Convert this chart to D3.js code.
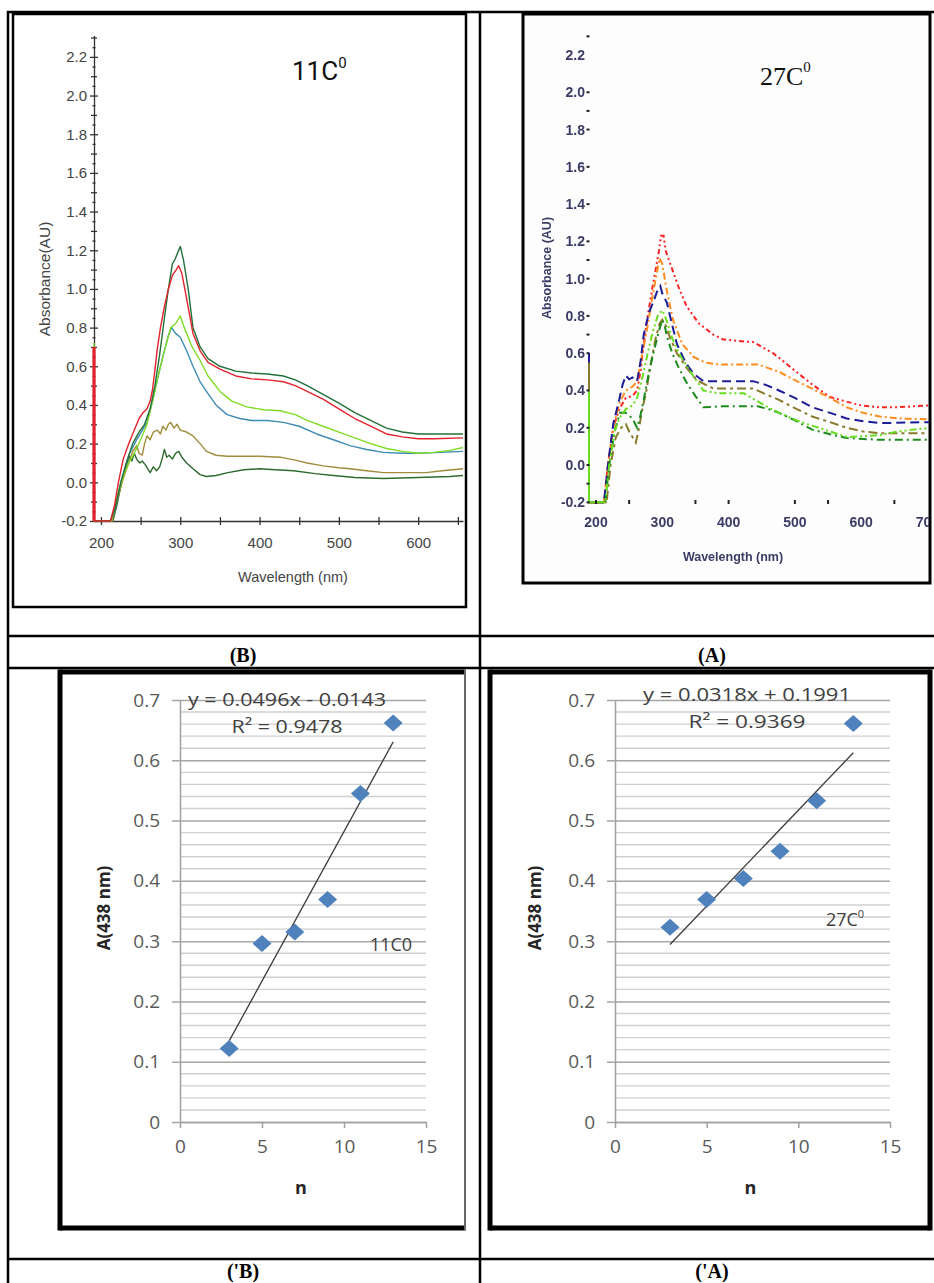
<!DOCTYPE html>
<html>
<head>
<meta charset="utf-8">
<script src="https://cdn.jsdelivr.net/npm/d3@7"></script>
<style>
  body { margin: 0; background: #fff; }
  svg { display: block; }
</style>
</head>
<body>
<script>
// ---------- data ----------
// panel (B): spectra at 11 C, [wavelength nm, absorbance]
const spec11GreenTop = [[191.2,0.62],[191.2,-0.2],[212,-0.2],[218,-0.13],[225,0.0],[232,0.1],[240,0.2],[248,0.26],[255,0.3],[262,0.38],[268,0.5],[274,0.66],[280,0.85],[285,1.0],[290,1.13],[293,1.15],[296,1.18],[300,1.22],[304,1.15],[310,1.0],[316,0.8],[325,0.7],[335,0.64],[350,0.6],[370,0.575],[390,0.565],[410,0.56],[430,0.55],[445,0.53],[460,0.5],[480,0.455],[500,0.41],[520,0.36],[540,0.32],[560,0.28],[580,0.26],[600,0.25],[656.5,0.25]];
const spec11Red = [[191.2,0.70],[191.2,-0.2],[212,-0.2],[217,-0.12],[222,0.0],[228,0.12],[235,0.2],[242,0.27],[248,0.33],[253,0.36],[258,0.38],[262,0.42],[265,0.48],[268,0.58],[271,0.69],[275,0.8],[280,0.91],[285,1.0],[290,1.07],[295,1.1],[298,1.12],[302,1.08],[308,0.95],[316,0.77],[325,0.68],[335,0.62],[350,0.585],[370,0.55],[390,0.535],[410,0.53],[430,0.52],[445,0.5],[460,0.47],[480,0.43],[500,0.38],[520,0.33],[540,0.29],[560,0.25],[580,0.235],[600,0.225],[620,0.225],[656.5,0.23]];
const spec11LightGreen = [[191.2,0.72],[191.2,-0.2],[213,-0.2],[220,-0.08],[228,0.03],[235,0.1],[242,0.15],[250,0.22],[258,0.3],[265,0.42],[272,0.55],[280,0.68],[288,0.8],[294,0.82],[300,0.86],[305,0.8],[315,0.7],[325,0.63],[335,0.55],[350,0.47],[365,0.42],[384,0.39],[405,0.375],[426,0.37],[445,0.35],[460,0.32],[480,0.29],[500,0.26],[520,0.23],[540,0.2],[560,0.175],[580,0.16],[600,0.15],[620,0.155],[640,0.165],[656.5,0.18]];
const spec11Blue = [[191.2,0.5],[191.2,-0.2],[212,-0.2],[217,-0.15],[225,0.0],[235,0.14],[245,0.22],[258,0.31],[265,0.42],[271,0.53],[278,0.65],[285,0.76],[289,0.8],[294,0.77],[300,0.75],[308,0.68],[316,0.6],[325,0.52],[333,0.47],[345,0.4],[359,0.35],[375,0.33],[390,0.32],[410,0.32],[430,0.31],[450,0.29],[472,0.25],[493,0.22],[514,0.19],[535,0.17],[556,0.155],[580,0.15],[600,0.15],[656.5,0.16]];
const spec11Olive = [[191.2,0.4],[191.2,-0.2],[214,-0.2],[220,-0.1],[228,0.02],[235,0.1],[240,0.16],[245,0.19],[248,0.15],[252,0.14],[255,0.2],[258,0.24],[262,0.22],[266,0.26],[271,0.27],[275,0.25],[278,0.29],[282,0.27],[285,0.3],[288,0.31],[292,0.28],[296,0.3],[300,0.27],[308,0.26],[316,0.24],[325,0.2],[333,0.16],[345,0.14],[359,0.135],[380,0.135],[400,0.135],[426,0.13],[445,0.115],[460,0.1],[480,0.085],[500,0.075],[514,0.07],[535,0.06],[556,0.05],[580,0.05],[610,0.05],[630,0.06],[656.5,0.07]];
const spec11GreenLow = [[191.2,0.3],[191.2,-0.2],[215,-0.2],[220,-0.12],[225,-0.02],[229,0.05],[233,0.1],[236,0.135],[239,0.11],[242,0.15],[245,0.12],[249,0.1],[252,0.11],[256,0.09],[259,0.07],[262,0.05],[266,0.08],[270,0.06],[274,0.08],[277,0.12],[280,0.17],[283,0.13],[286,0.14],[290,0.12],[294,0.15],[298,0.16],[302,0.13],[308,0.1],[316,0.07],[325,0.04],[333,0.03],[345,0.035],[360,0.05],[380,0.065],[400,0.07],[420,0.065],[443,0.06],[470,0.045],[493,0.035],[520,0.025],[556,0.02],[600,0.025],[640,0.03],[656.5,0.035]];

// panel (A): spectra at 27 C
const spec27Red = [[189.4,0.45],[189.4,-0.2],[212,-0.2],[218,0.0],[226,0.2],[235,0.3],[245,0.36],[255,0.37],[262,0.4],[267,0.5],[272,0.65],[278,0.8],[285,0.95],[290,1.05],[295,1.15],[298,1.23],[302,1.23],[305,1.15],[315,1.05],[325,0.95],[337,0.85],[355,0.76],[377,0.70],[391,0.675],[415,0.665],[437,0.66],[452,0.63],[467,0.6],[485,0.55],[502,0.5],[527,0.43],[553,0.365],[578,0.34],[600,0.32],[628,0.31],[655,0.31],[704,0.32]];
const spec27Orange = [[212,-0.2],[218,0.0],[226,0.2],[235,0.33],[245,0.4],[255,0.42],[262,0.45],[270,0.6],[278,0.75],[285,0.9],[290,1.0],[296,1.11],[300,1.08],[306,0.95],[316,0.78],[330,0.65],[347,0.58],[365,0.55],[384,0.54],[420,0.54],[444,0.54],[460,0.52],[476,0.5],[500,0.455],[526,0.41],[553,0.36],[578,0.31],[603,0.28],[628,0.26],[655,0.25],[704,0.245]];
const spec27Blue = [[189.4,0.6],[189.4,-0.2],[212,-0.2],[218,0.0],[226,0.22],[235,0.35],[240,0.43],[245,0.48],[250,0.46],[255,0.47],[262,0.45],[267,0.55],[272,0.7],[280,0.82],[287,0.88],[292,0.93],[297,0.96],[300,0.92],[307,0.87],[315,0.75],[322,0.65],[335,0.55],[347,0.49],[362,0.45],[391,0.45],[437,0.45],[456,0.43],[476,0.4],[500,0.36],[526,0.31],[553,0.28],[578,0.25],[603,0.235],[628,0.225],[704,0.23]];
const spec27Olive = [[189.4,0.55],[189.4,-0.2],[216,-0.2],[222,0.0],[230,0.15],[238,0.2],[245,0.22],[250,0.18],[255,0.15],[260,0.12],[265,0.2],[270,0.3],[276,0.4],[283,0.55],[290,0.68],[296,0.76],[300,0.78],[305,0.75],[312,0.68],[322,0.6],[337,0.52],[352,0.455],[377,0.41],[437,0.41],[456,0.38],[476,0.35],[500,0.305],[526,0.26],[553,0.23],[578,0.2],[603,0.18],[628,0.17],[704,0.17]];
const spec27GreenDark = [[214,-0.2],[220,0.0],[228,0.18],[236,0.28],[245,0.28],[255,0.25],[262,0.2],[266,0.25],[272,0.35],[280,0.5],[288,0.62],[295,0.72],[300,0.78],[304,0.74],[307,0.69],[315,0.6],[325,0.52],[337,0.44],[350,0.37],[362,0.31],[391,0.315],[444,0.315],[460,0.3],[476,0.28],[500,0.24],[526,0.19],[553,0.165],[578,0.145],[603,0.14],[628,0.135],[704,0.135]];
const spec27LightGreen = [[189.4,0.4],[189.4,-0.2],[214,-0.2],[220,0.0],[228,0.18],[235,0.25],[245,0.3],[255,0.32],[262,0.36],[270,0.47],[278,0.6],[286,0.72],[293,0.8],[300,0.83],[306,0.78],[315,0.68],[325,0.6],[337,0.53],[350,0.46],[362,0.40],[384,0.385],[423,0.385],[440,0.35],[459,0.31],[480,0.275],[502,0.24],[527,0.21],[553,0.18],[578,0.15],[603,0.155],[628,0.16],[655,0.18],[704,0.2]];

const specYTicks = [-0.2, 0, 0.2, 0.4, 0.6, 0.8, 1.0, 1.2, 1.4, 1.6, 1.8, 2.0, 2.2];
const specXTicks11 = [200, 300, 400, 500, 600];
const specXTicks27 = [200, 300, 400, 500, 600, 700];
const specXMarks27 = [200, 250, 350, 400, 500, 550, 650];
const specYMarks27 = [2.3, 1.9, 1.1, 0.7, -0.1];

// panels ('B) and ('A): absorbance at 438 nm vs n
const nValues = [3, 5, 7, 9, 11, 13];
const abs438At11 = [0.122, 0.296, 0.315, 0.369, 0.545, 0.662];
const abs438At27 = [0.323, 0.369, 0.404, 0.449, 0.533, 0.661];
const fit11 = { slope: 0.0496, intercept: -0.0143, r2: 0.9478 };
const fit27 = { slope: 0.0318, intercept: 0.1991, r2: 0.9369 };
const scatterXTicks = [0, 5, 10, 15];
const scatterYTicks = [0, 0.1, 0.2, 0.3, 0.4, 0.5, 0.6, 0.7];

// ---------- page ----------
const svg = d3.select("body").append("svg")
  .attr("width", 934).attr("height", 1283);
svg.append("rect").attr("width", 934).attr("height", 1283).attr("fill", "#fff");

const defs = svg.append("defs");
defs.append("filter").attr("id", "soft")
  .append("feGaussianBlur").attr("stdDeviation", 0.45);
defs.append("clipPath").attr("id", "clipB")
  .append("rect").attr("x", 92).attr("y", 20).attr("width", 372).attr("height", 503);
defs.append("clipPath").attr("id", "clipA")
  .append("rect").attr("x", 588).attr("y", 20).attr("width", 341).attr("height", 485);
defs.append("clipPath").attr("id", "clipALabels")
  .append("rect").attr("x", 524).attr("y", 14).attr("width", 405).attr("height", 568);

// table rules
const table = svg.append("g").attr("stroke", "#000").attr("stroke-width", 2.5);
[12, 636, 668, 1259].forEach(yy =>
  table.append("line").attr("x1", 7).attr("x2", 934).attr("y1", yy).attr("y2", yy));
[8, 480].forEach(xx =>
  table.append("line").attr("x1", xx).attr("x2", xx).attr("y1", 11).attr("y2", 1283));

// row captions
const caps = [["(B)", 243, 662], ["(A)", 712, 662], ["('B)", 243, 1278], ["('A)", 712, 1278]];
svg.selectAll("text.cap").data(caps).join("text")
  .attr("class", "cap")
  .attr("x", d => d[1]).attr("y", d => d[2])
  .attr("text-anchor", "middle")
  .style("font-family", "'Liberation Serif', 'Times New Roman', serif")
  .style("font-weight", "bold").style("font-size", "20px")
  .text(d => d[0]);

// ---------- panel (B) spectra, 11 C ----------
{
  const g = svg.append("g");
  g.append("rect").attr("x", 13).attr("y", 14).attr("width", 453).attr("height", 593)
    .attr("fill", "#fff").attr("stroke", "#000").attr("stroke-width", 2.5);

  const x = d3.scaleLinear().domain([191.2, 656.5]).range([94, 463]);
  const y = d3.scaleLinear().domain([-0.2, 2.31]).range([521, 35.6]);
  const line = d3.line().x(d => x(d[0])).y(d => y(d[1]));
  const font = "'Liberation Sans', Arial, sans-serif";

  // y axis
  const yAxis = g.append("g").attr("transform", "translate(94,0)")
    .call(d3.axisLeft(y).tickValues(specYTicks).tickSizeInner(4).tickSizeOuter(0)
      .tickPadding(3).tickFormat(d => d.toFixed(1)));
  yAxis.selectAll(".tick line").attr("x1", 4);
  g.append("g").attr("transform", "translate(94,0)")
    .call(d3.axisLeft(y).tickValues(d3.range(-0.1, 2.31, 0.2)).tickSize(3).tickFormat(""))
    .call(a => a.select(".domain").remove())
    .selectAll(".tick line").attr("x1", 3);
  g.append("g").attr("transform", "translate(94,0)")
    .call(d3.axisLeft(y).tickValues(d3.range(-0.15, 2.31, 0.1)).tickSize(1.5).tickFormat(""))
    .call(a => a.select(".domain").remove())
    .selectAll(".tick line").attr("x1", 1.5);
  g.append("line").attr("x1", 90).attr("x2", 98).attr("y1", y(2.31)).attr("y2", y(2.31));

  // x axis
  const xAxis = g.append("g").attr("transform", "translate(0,521)")
    .call(d3.axisBottom(x).tickValues(specXTicks11).tickSizeInner(4).tickSizeOuter(0)
      .tickPadding(12).tickFormat(d3.format("d")));
  xAxis.selectAll(".tick line").attr("y1", -4);
  g.append("g").attr("transform", "translate(0,521)")
    .call(d3.axisBottom(x).tickValues([250, 350, 450, 550, 650]).tickSize(4).tickFormat(""))
    .call(a => a.select(".domain").remove())
    .selectAll(".tick line").attr("y1", -4);

  g.selectAll(".domain, .tick line").attr("stroke", "#333").attr("stroke-width", 1.3);
  g.selectAll(".tick text").style("font-family", font).style("font-size", "15px").attr("fill", "#444");

  // curves drawn over the axes
  const series = [
    { pts: spec11GreenLow, color: "#2d6b2d" },
    { pts: spec11Olive, color: "#a08c3c" },
    { pts: spec11Blue, color: "#3d8cb4" },
    { pts: spec11LightGreen, color: "#7fdc26" },
    { pts: spec11GreenTop, color: "#23703a" },
    { pts: spec11Red, color: "#e3232c" }
  ];
  const curves = g.append("g").attr("clip-path", "url(#clipB)");
  curves.selectAll("path.curve").data(series).join("path")
    .attr("class", "curve")
    .attr("d", d => line(d.pts))
    .attr("fill", "none")
    .attr("stroke", d => d.color)
    .attr("stroke-width", 1.4)
    .attr("stroke-linejoin", "round");
  // thick red start segment along the left edge
  curves.append("path")
    .attr("d", line(spec11Red.slice(0, 2)))
    .attr("stroke", "#e3232c").attr("stroke-width", 3.2);

  g.append("text").attr("x", 293).attr("y", 582).attr("text-anchor", "middle")
    .style("font-family", font).style("font-size", "14.5px").attr("fill", "#444")
    .text("Wavelength (nm)");
  g.append("text").attr("transform", "translate(50,279) rotate(-90)").attr("text-anchor", "middle")
    .style("font-family", font).style("font-size", "15.5px").attr("fill", "#444")
    .text("Absorbance(AU)");

  const t = g.append("text").attr("x", 292).attr("y", 80)
    .style("font-family", "Roboto, 'Liberation Sans', sans-serif").style("font-size", "26px").attr("fill", "#111");
  t.append("tspan").text("11C");
  t.append("tspan").attr("dy", -12).style("font-size", "15px").text("0");
}

// ---------- panel (A) spectra, 27 C ----------
{
  const g = svg.append("g");
  g.append("rect").attr("x", 523).attr("y", 14).attr("width", 407).attr("height", 569)
    .attr("fill", "#fdfdfd").attr("stroke", "#000").attr("stroke-width", 3);

  const x = d3.scaleLinear().domain([200, 700]).range([596, 927.5]);
  const y = d3.scaleLinear().domain([-0.2, 2.2]).range([502.3, 55]);
  const line = d3.line().x(d => x(d[0])).y(d => y(d[1]));

  const series = [
    { pts: spec27Red, color: "#ff2424", dash: "5,3,2,3,2,3" },
    { pts: spec27Orange, color: "#ff8c1e", dash: "7,3,2,3" },
    { pts: spec27Blue, color: "#1c1c96", dash: "9,5" },
    { pts: spec27Olive, color: "#8a7a2c", dash: "9,4,3,4" },
    { pts: spec27GreenDark, color: "#1d8a1d", dash: "8,4,2,4" },
    { pts: spec27LightGreen, color: "#66de1e", dash: "7,3,2,3,2,3" }
  ];
  const curves = g.append("g").attr("clip-path", "url(#clipA)");
  curves.selectAll("path.curve").data(series).join("path")
    .attr("class", "curve")
    .attr("d", d => line(d.pts))
    .attr("fill", "none")
    .attr("stroke", d => d.color)
    .attr("stroke-width", 2)
    .attr("stroke-dasharray", d => d.dash);
  // solid vertical start segments at the left edge
  curves.selectAll("path.start").data(series.filter(d => d.pts[0][0] < 190)).join("path")
    .attr("class", "start")
    .attr("d", d => line(d.pts.slice(0, 3)))
    .attr("fill", "none").attr("stroke", d => d.color).attr("stroke-width", 2);

  const font = "'Liberation Sans Narrow', 'Liberation Sans', Arial, sans-serif";
  const labels = g.append("g").attr("clip-path", "url(#clipALabels)").attr("filter", "url(#soft)");
  labels.selectAll("text.yl").data(specYTicks).join("text")
    .attr("class", "yl")
    .attr("x", 585).attr("y", d => y(d) + 5)
    .attr("text-anchor", "end")
    .style("font-family", font).style("font-weight", "bold").style("font-size", "14px")
    .attr("fill", "#3b3b66")
    .text(d => d.toFixed(1));
  labels.selectAll("rect.ym").data(specYTicks.filter(d => d !== 2.2).concat(specYMarks27)).join("rect")
    .attr("class", "ym")
    .attr("x", 586.5).attr("y", d => y(d) - 1).attr("width", 3).attr("height", 2).attr("fill", "#222");
  labels.selectAll("text.xl").data(specXTicks27).join("text")
    .attr("class", "xl")
    .attr("x", d => x(d)).attr("y", 527)
    .attr("text-anchor", "middle")
    .style("font-family", font).style("font-weight", "bold").style("font-size", "14px")
    .attr("fill", "#3b3b66")
    .text(d => d);
  labels.selectAll("rect.xm").data(specXMarks27).join("rect")
    .attr("class", "xm")
    .attr("x", d => x(d) - 1).attr("y", 500).attr("width", 2).attr("height", 4).attr("fill", "#222");
  labels.append("text").attr("x", 733).attr("y", 561).attr("text-anchor", "middle")
    .style("font-family", font).style("font-weight", "bold").style("font-size", "12.5px")
    .attr("fill", "#3b3b66").text("Wavelength (nm)");
  labels.append("text").attr("transform", "translate(551,268) rotate(-90)").attr("text-anchor", "middle")
    .style("font-family", font).style("font-weight", "bold").style("font-size", "12.5px")
    .attr("fill", "#3b3b66").text("Absorbance (AU)");

  const t = g.append("text").attr("x", 760).attr("y", 85)
    .style("font-family", "'Liberation Serif', 'Times New Roman', serif").style("font-size", "26px").attr("fill", "#111");
  t.append("tspan").text("27C");
  t.append("tspan").attr("dy", -13).style("font-size", "15px").text("0");
}

// ---------- panels ('B) and ('A): A(438 nm) vs n ----------
function scatterPanel(cfg) {
  const g = svg.append("g");
  const x = d3.scaleLinear().domain([0, 15]).range([cfg.x0, cfg.x1]);
  const y = d3.scaleLinear().domain([0, 0.7]).range([1122, 700]);
  const w = cfg.x1 - cfg.x0;
  const font = "'Open Sans', 'Liberation Sans', sans-serif";

  // frame
  const b = cfg.box;
  g.append("rect").attr("x", b[0]).attr("y", b[1]).attr("width", b[2] - b[0]).attr("height", b[3] - b[1])
    .attr("fill", "#fff").attr("stroke", "#c8c8c8").attr("stroke-width", 1);
  const frame = g.append("g").attr("stroke", "#000").attr("stroke-width", 5);
  frame.append("line").attr("x1", b[0]).attr("x2", b[0]).attr("y1", b[1] - 2.5).attr("y2", b[3] + 2.5);
  frame.append("line").attr("x1", b[0]).attr("x2", b[2]).attr("y1", b[1]).attr("y2", b[1]);
  frame.append("line").attr("x1", b[0]).attr("x2", b[2]).attr("y1", b[3]).attr("y2", b[3]);
  frame.append("line").attr("x1", b[2]).attr("x2", b[2]).attr("y1", b[1] - 2.5).attr("y2", b[3] + 2.5)
    .attr("stroke", cfg.rightColor).attr("stroke-width", cfg.rightWidth);

  // minor gridlines
  const minor = d3.range(0.02, 0.7, 0.02).filter(v => Math.abs(v * 10 - Math.round(v * 10)) > 0.01);
  g.append("g").selectAll("line").data(minor).join("line")
    .attr("x1", cfg.x0).attr("x2", cfg.x1)
    .attr("y1", d => y(d)).attr("y2", d => y(d))
    .attr("stroke", "#cfcfcf").attr("stroke-width", 1.4);

  // y axis with major gridlines
  const yAxis = g.append("g").attr("transform", `translate(${cfg.x0},0)`)
    .call(d3.axisLeft(y).tickValues(scatterYTicks).tickSizeInner(-w).tickSizeOuter(0)
      .tickPadding(20).tickFormat(d => d === 0 ? "0" : d.toFixed(1)));
  yAxis.selectAll(".tick line").attr("x1", -8).attr("stroke", "#a6a6a6").attr("stroke-width", 1.5);
  yAxis.select(".domain").attr("stroke", "#a0a0a0").attr("stroke-width", 1.5);

  // x axis
  const xAxis = g.append("g").attr("transform", "translate(0,1122)")
    .call(d3.axisBottom(x).tickValues(scatterXTicks).tickSizeInner(6).tickSizeOuter(0)
      .tickPadding(12).tickFormat(d3.format("d")));
  xAxis.selectAll(".tick line").attr("stroke", "#a0a0a0").attr("stroke-width", 1.5);
  xAxis.select(".domain").attr("stroke", "#a0a0a0").attr("stroke-width", 1.5);

  g.selectAll(".tick text").style("font-family", font).style("font-size", "19px").attr("fill", "#595959");

  // trendline
  const fx = [nValues[0], nValues[nValues.length - 1]];
  g.append("line")
    .attr("x1", x(fx[0])).attr("y1", y(cfg.fit.slope * fx[0] + cfg.fit.intercept))
    .attr("x2", x(fx[1])).attr("y2", y(cfg.fit.slope * fx[1] + cfg.fit.intercept))
    .attr("stroke", "#3c3c3c").attr("stroke-width", 1.3);

  // diamonds
  g.selectAll("path.pt").data(nValues.map((n, i) => [n, cfg.values[i]])).join("path")
    .attr("class", "pt")
    .attr("transform", d => `translate(${x(d[0])},${y(d[1])})`)
    .attr("d", "M0,-8.5L9.5,0L0,8.5L-9.5,0Z")
    .attr("fill", "#4f81bd");

  // equation and R²
  const sign = cfg.fit.intercept < 0 ? "-" : "+";
  g.append("text").attr("x", cfg.eqX).attr("y", cfg.eqY).attr("text-anchor", "middle")
    .attr("textLength", cfg.eqLen).attr("lengthAdjust", "spacingAndGlyphs")
    .style("font-family", font).style("font-size", "18px").attr("fill", "#404040")
    .text(`y = ${cfg.fit.slope}x ${sign} ${Math.abs(cfg.fit.intercept)}`);
  g.append("text").attr("x", cfg.eqX).attr("y", cfg.eqY + 27).attr("text-anchor", "middle")
    .attr("textLength", cfg.r2Len).attr("lengthAdjust", "spacingAndGlyphs")
    .style("font-family", font).style("font-size", "18px").attr("fill", "#404040")
    .text(`R² = ${cfg.fit.r2}`);

  // temperature tag
  const tag = g.append("text").attr("x", cfg.tagX).attr("y", cfg.tagY).attr("text-anchor", "middle")
    .style("font-family", font).style("font-size", "18px").attr("fill", "#404040");
  tag.append("tspan").text(cfg.tag);
  if (cfg.tagSup) tag.append("tspan").attr("dy", -8).style("font-size", "11px").text(cfg.tagSup);

  // axis titles
  g.append("text").attr("x", (cfg.x0 + cfg.x1) / 2 - 2).attr("y", 1194).attr("text-anchor", "middle")
    .style("font-family", font).style("font-weight", "bold").style("font-size", "18px")
    .attr("fill", "#262626").text("n");
  g.append("text").attr("transform", `translate(${cfg.titleX},908) rotate(-90)`).attr("text-anchor", "middle")
    .style("font-family", font).style("font-weight", "bold").style("font-size", "17px")
    .attr("fill", "#262626").text("A(438 nm)");
}

scatterPanel({
  box: [60, 672, 465, 1228], rightColor: "#666", rightWidth: 2,
  x0: 180, x1: 426, values: abs438At11, fit: fit11,
  eqX: 287, eqY: 706, eqLen: 198, r2Len: 111,
  tag: "11C0", tagSup: null, tagX: 391, tagY: 951, titleX: 110
});
scatterPanel({
  box: [490, 672, 930, 1228], rightColor: "#000", rightWidth: 5,
  x0: 615, x1: 890, values: abs438At27, fit: fit27,
  eqX: 747, eqY: 701, eqLen: 208, r2Len: 117,
  tag: "27C", tagSup: "0", tagX: 845, tagY: 926, titleX: 541
});
</script>
</body>
</html>
